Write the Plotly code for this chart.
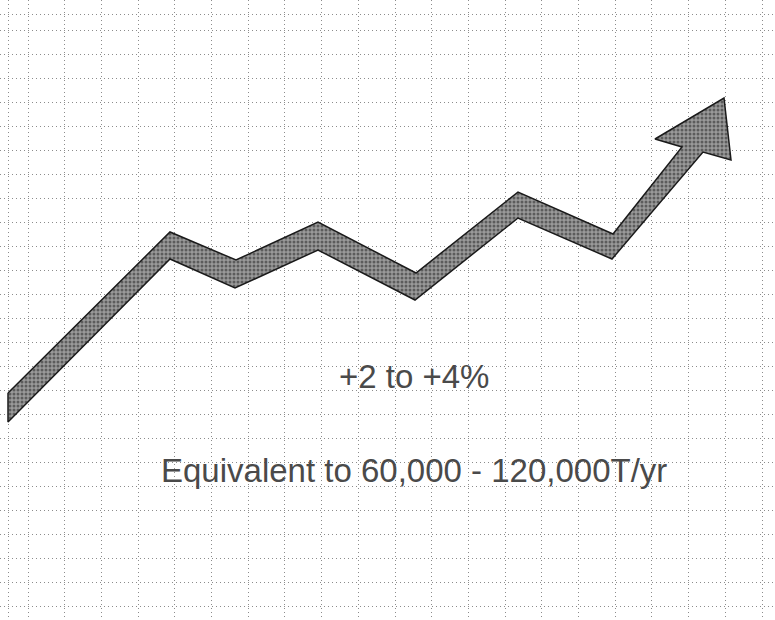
import plotly.graph_objects as go

# Arrow outline (chart units: x right, y down, matching the page grid)
upper_x = [8, 170, 236, 318, 416, 518, 613, 682]
upper_y = [393, 232, 260, 222, 273, 192, 234, 147]
head_x = [655, 724, 731]
head_y = [139, 98, 160]
lower_x = [703, 612, 518, 415, 318, 235, 170, 8]
lower_y = [152, 259, 218, 300, 250, 288, 259, 422]

# Graph-paper grid positions
grid_x = [8, 28, 64.7, 101.4, 138.1, 174.8, 211.5, 248.2, 284.9, 321.6, 358.3, 395,
          431.7, 468.4, 505.1, 541.8, 578.5, 615.2, 651.9, 688.6, 725.3, 762]
grid_y = [14, 30, 54, 78, 102, 126, 150, 174, 198, 222, 246, 270, 294, 318, 342, 366,
          390, 414, 438, 462, 486, 510, 534, 558, 582, 606]

# Annotation texts
label_growth = "+2 to +4%"
label_equiv = "Equivalent to 60,000 - 120,000T/yr"
label_x = [414, 414]
label_y = [376, 470]

poly_x = upper_x + head_x + lower_x + [upper_x[0]]
poly_y = upper_y + head_y + lower_y + [upper_y[0]]

fig = go.Figure()
fig.add_trace(go.Scatter(
    x=poly_x, y=poly_y, mode="lines", fill="toself",
    fillcolor="#6e6e6e",
    fillpattern=dict(shape=".", fgcolor="#1e1e1e", bgcolor="#9a9a9a", size=4, solidity=0.45),
    line=dict(color="#1a1a1a", width=1.5),
    hoverinfo="skip", showlegend=False,
))

for txt, tx, ty in zip([label_growth, label_equiv], label_x, label_y):
    fig.add_annotation(x=tx, y=ty, text=txt, showarrow=False, xanchor="center", yanchor="middle",
                       font=dict(family="Liberation Sans, Arial, sans-serif", size=33, color="#4a4a4a"))

axis_common = dict(showticklabels=False, ticks="", zeroline=False, showline=False,
                   showgrid=True, gridcolor="#8c8c8c", gridwidth=1, griddash="1px,3px")
fig.update_xaxes(range=[0, 775], tickmode="array", tickvals=grid_x, **axis_common)
fig.update_yaxes(range=[620, 0], tickmode="array", tickvals=grid_y, **axis_common)

fig.update_layout(width=775, height=620, margin=dict(l=0, r=0, t=0, b=0),
                  paper_bgcolor="white", plot_bgcolor="white")

fig.write_html("out.html")
